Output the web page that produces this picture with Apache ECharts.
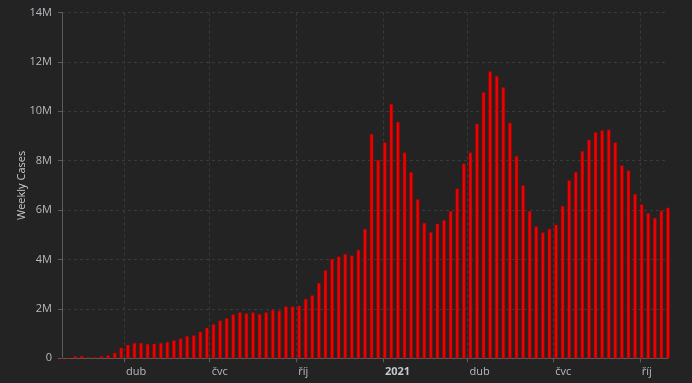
<!DOCTYPE html>
<html>
<head>
<meta charset="utf-8">
<script src="https://cdn.jsdelivr.net/npm/echarts@6/dist/echarts.min.js"></script>
<style>
  html, body { margin: 0; padding: 0; background: #232323; }
  #chart { width: 692px; height: 383px; }
</style>
</head>
<body>
<div id="chart"></div>
<script>
// Week starting dates (Sundays)
const weeks = [
  '2020-01-26','2020-02-02','2020-02-09','2020-02-16','2020-02-23','2020-03-01','2020-03-08','2020-03-15','2020-03-22','2020-03-29',
  '2020-04-05','2020-04-12','2020-04-19','2020-04-26','2020-05-03','2020-05-10','2020-05-17','2020-05-24','2020-05-31','2020-06-07',
  '2020-06-14','2020-06-21','2020-06-28','2020-07-05','2020-07-12','2020-07-19','2020-07-26','2020-08-02','2020-08-09','2020-08-16',
  '2020-08-23','2020-08-30','2020-09-06','2020-09-13','2020-09-20','2020-09-27','2020-10-04','2020-10-11','2020-10-18','2020-10-25',
  '2020-11-01','2020-11-08','2020-11-15','2020-11-22','2020-11-29','2020-12-06','2020-12-13','2020-12-20','2020-12-27','2021-01-03',
  '2021-01-10','2021-01-17','2021-01-24','2021-01-31','2021-02-07','2021-02-14','2021-02-21','2021-02-28','2021-03-07','2021-03-14',
  '2021-03-21','2021-03-28','2021-04-04','2021-04-11','2021-04-18','2021-04-25','2021-05-02','2021-05-09','2021-05-16','2021-05-23',
  '2021-05-30','2021-06-06','2021-06-13','2021-06-20','2021-06-27','2021-07-04','2021-07-11','2021-07-18','2021-07-25','2021-08-01',
  '2021-08-08','2021-08-15','2021-08-22','2021-08-29','2021-09-05','2021-09-12','2021-09-19','2021-09-26','2021-10-03','2021-10-10',
  '2021-10-17','2021-10-24','2021-10-31'
];

// Weekly cases, millions
const weeklyCasesM = [
  0.02, 0.02, 0.09, 0.09, 0.04, 0.05, 0.08, 0.12, 0.22, 0.43,
  0.55, 0.62, 0.62, 0.58, 0.59, 0.62, 0.66, 0.73, 0.80, 0.90,
  0.93, 1.08, 1.24, 1.38, 1.53, 1.62, 1.78, 1.86, 1.82, 1.86,
  1.79, 1.86, 1.96, 1.93, 2.10, 2.10, 2.13, 2.40, 2.55, 3.05,
  3.56, 4.02, 4.12, 4.22, 4.16, 4.39, 5.24, 9.08, 8.03, 8.74,
  10.30, 9.57, 8.33, 7.54, 6.44, 5.48, 5.11, 5.45, 5.59, 5.96,
  6.87, 7.88, 8.33, 9.50, 10.77, 11.62, 11.43, 10.97, 9.54, 8.19,
  7.00, 5.96, 5.34, 5.10, 5.24, 5.41, 6.17, 7.21, 7.54, 8.39,
  8.85, 9.15, 9.23, 9.26, 8.74, 7.81, 7.61, 6.65, 6.23, 5.88,
  5.68, 5.98, 6.10
];

// Quarter marks along the date axis
const quarterMarks = ['2020-04-01', '2020-07-01', '2020-10-01', '2021-01-01', '2021-04-01', '2021-07-01', '2021-10-01'];
const monthNames = ['led', 'úno', 'bře', 'dub', 'kvě', 'čvn', 'čvc', 'srp', 'zář', 'říj', 'lis', 'pro'];

const yTicksM = [0, 2, 4, 6, 8, 10, 12, 14];

const toTs = s => Date.parse(s + 'T00:00:00Z');
const quarterTs = quarterMarks.map(toTs);

const chart = echarts.init(document.getElementById('chart'), null, { renderer: 'canvas' });

chart.setOption({
  backgroundColor: '#232323',
  animation: false,
  textStyle: { fontFamily: 'Open Sans, sans-serif' },
  grid: { left: 62, right: 24, top: 12.5, bottom: 24.7 },
  xAxis: {
    type: 'value',
    min: toTs(weeks[0]),
    max: toTs(weeks[weeks.length - 1]),
    axisLine: { show: true, lineStyle: { color: '#5c5c5c', width: 1 } },
    axisTick: {
      show: true, length: 4, lineStyle: { color: '#5c5c5c' },
      customValues: quarterTs
    },
    splitLine: { show: true, lineStyle: { color: '#3a3a3a', type: [3, 3] } },
    axisLabel: {
      customValues: quarterTs,
      color: '#b6babf',
      fontSize: 11,
      margin: 8,
      align: 'left',
      padding: [0, 0, 0, 2],
      formatter: function (v) {
        const d = new Date(v);
        if (d.getUTCMonth() === 0) return '{yr|' + d.getUTCFullYear() + '}';
        return monthNames[d.getUTCMonth()];
      },
      rich: { yr: { fontWeight: 'bold', fontSize: 11, color: '#c4c8cc' } }
    }
  },
  yAxis: {
    type: 'value',
    min: yTicksM[0] * 1e6,
    max: yTicksM[yTicksM.length - 1] * 1e6,
    interval: 2e6,
    name: 'Weekly Cases',
    nameLocation: 'middle',
    nameGap: 35,
    nameMoveOverlap: false,
    nameRotate: 90,
    nameTextStyle: { color: '#c8c8c8', fontSize: 11 },
    axisLine: { show: true, lineStyle: { color: '#5c5c5c', width: 1 } },
    axisTick: { show: true, length: 4, lineStyle: { color: '#5c5c5c' } },
    splitLine: { show: true, lineStyle: { color: '#3a3a3a', type: [3, 3] } },
    axisLabel: {
      color: '#b6babf',
      fontSize: 11,
      margin: 10,
      formatter: v => v === 0 ? '0' : (v / 1e6) + 'M'
    }
  },
  series: [{
    type: 'bar',
    barWidth: 3.4,
    data: weeks.map((w, i) => [toTs(w), weeklyCasesM[i] * 1e6]),
    itemStyle: { color: '#f20000', borderColor: '#a80000', borderWidth: 0.5 }
  }]
});
</script>
</body>
</html>
